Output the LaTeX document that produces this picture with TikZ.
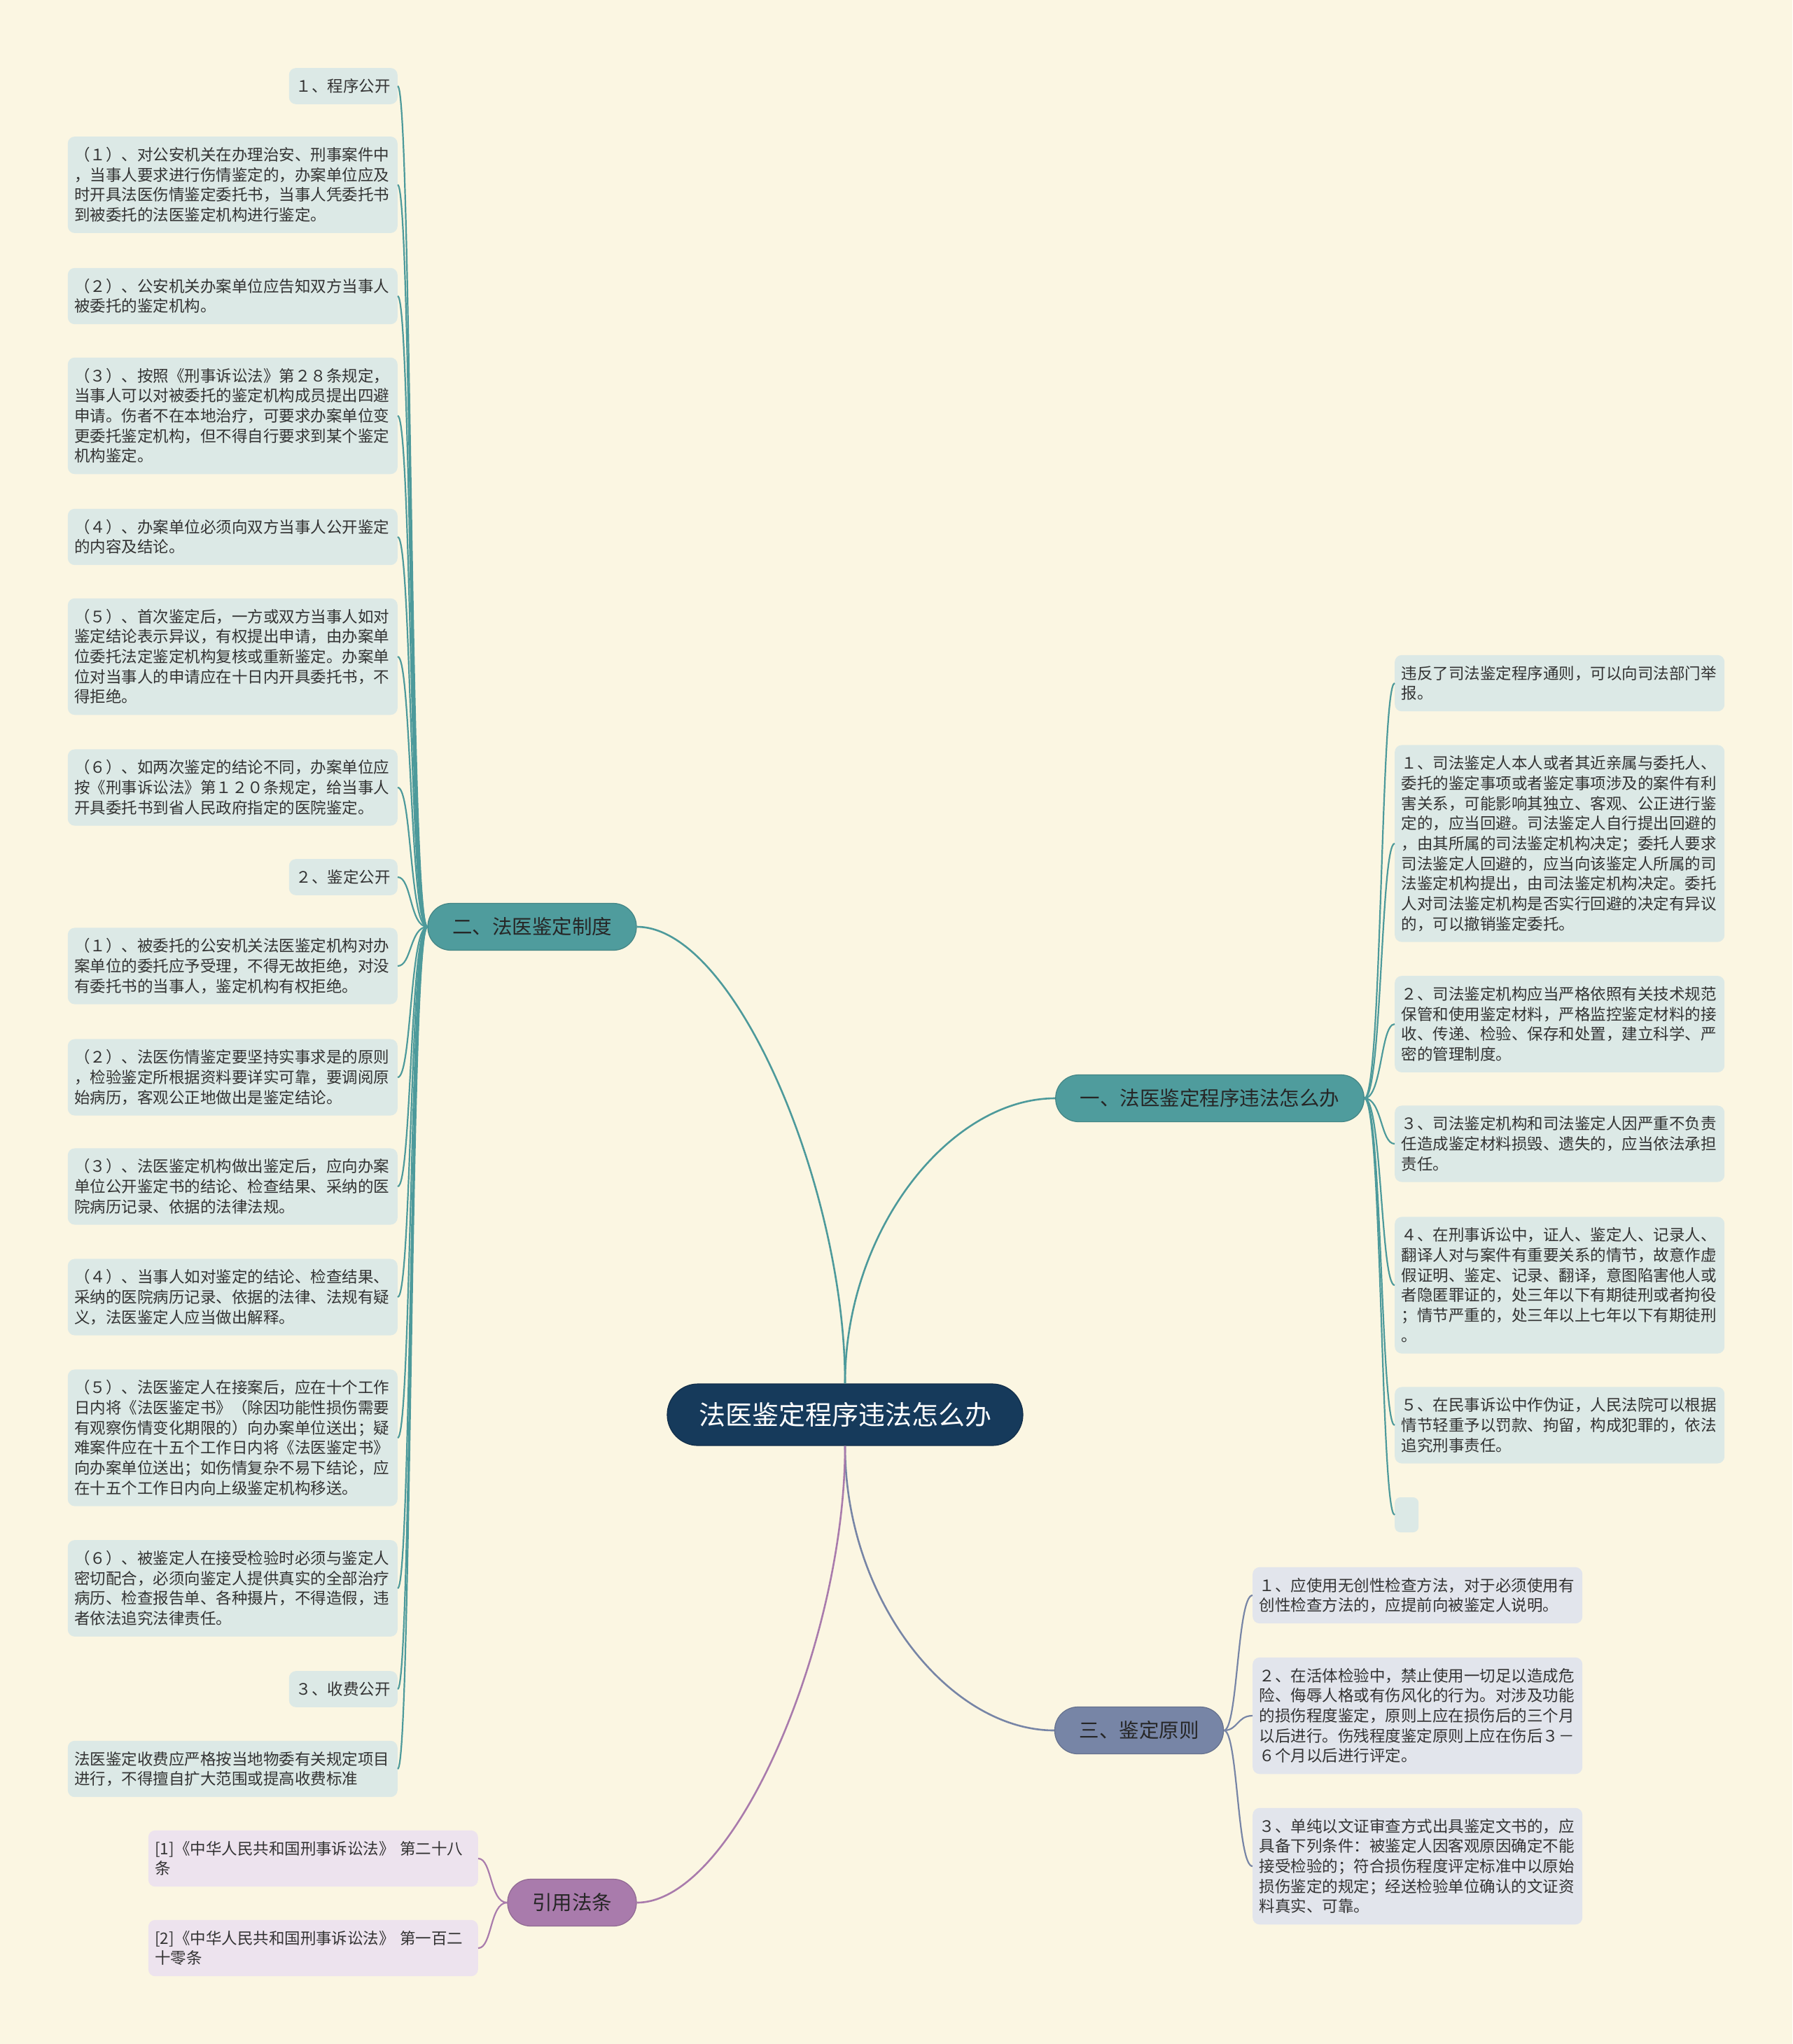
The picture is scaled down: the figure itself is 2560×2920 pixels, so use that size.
\documentclass[tikz,border=0pt]{standalone}
\usepackage{fontspec}
\setmainfont{Noto Sans CJK SC}

\definecolor{paper}{HTML}{FBF6E2}
\definecolor{ink}{HTML}{333333}
\definecolor{navy}{HTML}{163A5B}
\definecolor{tealb}{HTML}{4F9C9D}
\definecolor{teall}{HTML}{4D9A9B}
\definecolor{slateb}{HTML}{7785A6}
\definecolor{plumb}{HTML}{A97BAC}
\definecolor{tealbox}{HTML}{DCE9E6}
\definecolor{slatebox}{HTML}{E2E5EC}
\definecolor{plumbox}{HTML}{EDE3EE}

\newcommand\leaffont{\fontsize{22.5pt}{28.7pt}\selectfont}
\newcommand\branchfont{\fontsize{28.5pt}{34pt}\selectfont}
\newcommand\linestrut{\rule[-5.8pt]{0pt}{28.7pt}}

\begin{document}
\begin{tikzpicture}[x=1pt, y=-1pt,
    leaf/.style={fill=#1, rounded corners=10pt, text=ink, font=\leaffont,
        text width=452pt, align=left, inner xsep=9.5pt, inner ysep=11.5pt,
        execute at begin node=\linestrut, execute at end node=\linestrut},
    tag/.style={fill=#1, rounded corners=10pt, text=ink, font=\leaffont,
        inner xsep=10pt, inner ysep=11.5pt, execute at begin node=\linestrut},
    branch/.style={fill=#1, draw=#1!85!black, line width=1.2pt, text=black!85,
        font=\branchfont, minimum height=67pt, rounded corners=33pt, inner xsep=35pt},
    link/.style={draw=#1, line width=2.2pt},
    trunk/.style={draw=#1, line width=2.6pt}]

    \fill[paper] (0,0) rectangle (2560,2920);
    \useasboundingbox (0,0) rectangle (2560,2920);

    \node[fill=navy, draw=navy!80!black, line width=1.2pt, text=white,
        font=\fontsize{38pt}{44pt}\selectfont, minimum height=88pt,
        rounded corners=44pt, inner xsep=45pt] (root) at (1207,2021) {法医鉴定程序违法怎么办};

    \node[branch=tealb] (wf) at (1728,1569) {一、法医鉴定程序违法怎么办};
    \node[branch=tealb] (zd) at (760,1324) {二、法医鉴定制度};
    \node[branch=slateb] (yz) at (1627,2472) {三、鉴定原则};
    \node[branch=plumb] (yy) at (817,2718) {引用法条};

    \draw[trunk=teall] (root.north) .. controls +(0,-277) and +(141,0) .. (zd.east);
    \draw[trunk=teall] (root.north) .. controls +(0,-220) and +(-150,0) .. (wf.west);
    \draw[trunk=slateb] (root.south) .. controls +(0,220) and +(-150,0) .. (yz.west);
    \draw[trunk=plumb] (root.south) .. controls +(0,277) and +(141,0) .. (yy.east);

    \node[tag=tealbox, anchor=east] (zd1) at (568,123) {１、程序公开};
    \node[leaf=tealbox, anchor=east] (zd2) at (568,264) {（１）、对公安机关在办理治安、刑事案件中\\，当事人要求进行伤情鉴定的，办案单位应及\\时开具法医伤情鉴定委托书，当事人凭委托书\\到被委托的法医鉴定机构进行鉴定。};
    \node[leaf=tealbox, anchor=east] (zd3) at (568,423) {（２）、公安机关办案单位应告知双方当事人\\被委托的鉴定机构。};
    \node[leaf=tealbox, anchor=east] (zd4) at (568,594) {（３）、按照《刑事诉讼法》第２８条规定，\\当事人可以对被委托的鉴定机构成员提出四避\\申请。伤者不在本地治疗，可要求办案单位变\\更委托鉴定机构，但不得自行要求到某个鉴定\\机构鉴定。};
    \node[leaf=tealbox, anchor=east] (zd5) at (568,767) {（４）、办案单位必须向双方当事人公开鉴定\\的内容及结论。};
    \node[leaf=tealbox, anchor=east] (zd6) at (568,938) {（５）、首次鉴定后，一方或双方当事人如对\\鉴定结论表示异议，有权提出申请，由办案单\\位委托法定鉴定机构复核或重新鉴定。办案单\\位对当事人的申请应在十日内开具委托书，不\\得拒绝。};
    \node[leaf=tealbox, anchor=east] (zd7) at (568,1125) {（６）、如两次鉴定的结论不同，办案单位应\\按《刑事诉讼法》第１２０条规定，给当事人\\开具委托书到省人民政府指定的医院鉴定。};
    \node[tag=tealbox, anchor=east] (zd8) at (568,1253) {２、鉴定公开};
    \node[leaf=tealbox, anchor=east] (zd9) at (568,1380) {（１）、被委托的公安机关法医鉴定机构对办\\案单位的委托应予受理，不得无故拒绝，对没\\有委托书的当事人，鉴定机构有权拒绝。};
    \node[leaf=tealbox, anchor=east] (zd10) at (568,1539) {（２）、法医伤情鉴定要坚持实事求是的原则\\，检验鉴定所根据资料要详实可靠，要调阅原\\始病历，客观公正地做出是鉴定结论。};
    \node[leaf=tealbox, anchor=east] (zd11) at (568,1695) {（３）、法医鉴定机构做出鉴定后，应向办案\\单位公开鉴定书的结论、检查结果、采纳的医\\院病历记录、依据的法律法规。};
    \node[leaf=tealbox, anchor=east] (zd12) at (568,1853) {（４）、当事人如对鉴定的结论、检查结果、\\采纳的医院病历记录、依据的法律、法规有疑\\义，法医鉴定人应当做出解释。};
    \node[leaf=tealbox, anchor=east] (zd13) at (568,2054) {（５）、法医鉴定人在接案后，应在十个工作\\日内将《法医鉴定书》（除因功能性损伤需要\\有观察伤情变化期限的）向办案单位送出；疑\\难案件应在十五个工作日内将《法医鉴定书》\\向办案单位送出；如伤情复杂不易下结论，应\\在十五个工作日内向上级鉴定机构移送。};
    \node[leaf=tealbox, anchor=east] (zd14) at (568,2269) {（６）、被鉴定人在接受检验时必须与鉴定人\\密切配合，必须向鉴定人提供真实的全部治疗\\病历、检查报告单、各种摄片，不得造假，违\\者依法追究法律责任。};
    \node[tag=tealbox, anchor=east] (zd15) at (568,2413) {３、收费公开};
    \node[leaf=tealbox, anchor=east] (zd16) at (568,2527) {法医鉴定收费应严格按当地物委有关规定项目\\进行，不得擅自扩大范围或提高收费标准};

    \node[leaf=tealbox, anchor=west] (wf1) at (1992,976) {违反了司法鉴定程序通则，可以向司法部门举\\报。};
    \node[leaf=tealbox, anchor=west] (wf2) at (1992,1205) {１、司法鉴定人本人或者其近亲属与委托人、\\委托的鉴定事项或者鉴定事项涉及的案件有利\\害关系，可能影响其独立、客观、公正进行鉴\\定的，应当回避。司法鉴定人自行提出回避的\\，由其所属的司法鉴定机构决定；委托人要求\\司法鉴定人回避的，应当向该鉴定人所属的司\\法鉴定机构提出，由司法鉴定机构决定。委托\\人对司法鉴定机构是否实行回避的决定有异议\\的，可以撤销鉴定委托。};
    \node[leaf=tealbox, anchor=west] (wf3) at (1992,1463) {２、司法鉴定机构应当严格依照有关技术规范\\保管和使用鉴定材料，严格监控鉴定材料的接\\收、传递、检验、保存和处置，建立科学、严\\密的管理制度。};
    \node[leaf=tealbox, anchor=west] (wf4) at (1992,1634) {３、司法鉴定机构和司法鉴定人因严重不负责\\任造成鉴定材料损毁、遗失的，应当依法承担\\责任。};
    \node[leaf=tealbox, anchor=west] (wf5) at (1992,1836) {４、在刑事诉讼中，证人、鉴定人、记录人、\\翻译人对与案件有重要关系的情节，故意作虚\\假证明、鉴定、记录、翻译，意图陷害他人或\\者隐匿罪证的，处三年以下有期徒刑或者拘役\\；情节严重的，处三年以上七年以下有期徒刑\\。};
    \node[leaf=tealbox, anchor=west] (wf6) at (1992,2036) {５、在民事诉讼中作伪证，人民法院可以根据\\情节轻重予以罚款、拘留，构成犯罪的，依法\\追究刑事责任。};
    \node[fill=tealbox, rounded corners=8pt, minimum width=34pt, minimum height=50pt,
        anchor=west] (wf7) at (1992,2164) {};

    \node[leaf=slatebox, anchor=west] (yz1) at (1789,2279) {１、应使用无创性检查方法，对于必须使用有\\创性检查方法的，应提前向被鉴定人说明。};
    \node[leaf=slatebox, anchor=west] (yz2) at (1789,2451) {２、在活体检验中，禁止使用一切足以造成危\\险、侮辱人格或有伤风化的行为。对涉及功能\\的损伤程度鉴定，原则上应在损伤后的三个月\\以后进行。伤残程度鉴定原则上应在伤后３－\\６个月以后进行评定。};
    \node[leaf=slatebox, anchor=west] (yz3) at (1789,2666) {３、单纯以文证审查方式出具鉴定文书的，应\\具备下列条件：被鉴定人因客观原因确定不能\\接受检验的；符合损伤程度评定标准中以原始\\损伤鉴定的规定；经送检验单位确认的文证资\\料真实、可靠。};

    \node[leaf=plumbox, anchor=east] (yy1) at (683,2655) {[1]《中华人民共和国刑事诉讼法》 第二十八\\条};
    \node[leaf=plumbox, anchor=east] (yy2) at (683,2783) {[2]《中华人民共和国刑事诉讼法》 第一百二\\十零条};

    \foreach \n in {zd1,zd2,zd3,zd4,zd5,zd6,zd7,zd8,zd9,zd10,zd11,zd12,zd13,zd14,zd15,zd16}
        \draw[link=teall] (zd.west) .. controls +(-25,0) and +(20,0) .. (\n.east);
    \foreach \n in {wf1,wf2,wf3,wf4,wf5,wf6,wf7}
        \draw[link=teall] (wf.east) .. controls +(25,0) and +(-20,0) .. (\n.west);
    \foreach \n in {yz1,yz2,yz3}
        \draw[link=slateb] (yz.east) .. controls +(20,0) and +(-22,0) .. (\n.west);
    \foreach \n in {yy1,yy2}
        \draw[link=plumb] (yy.west) .. controls +(-25,0) and +(20,0) .. (\n.east);
\end{tikzpicture}
\end{document}
